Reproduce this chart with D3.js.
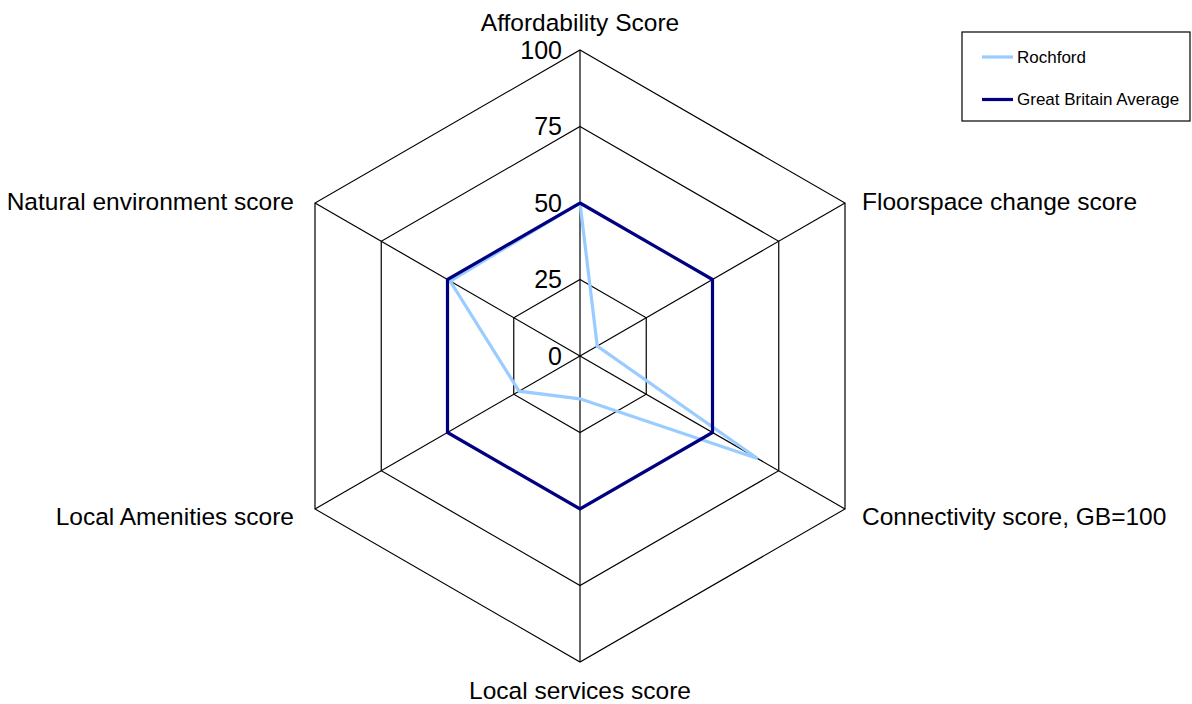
<!DOCTYPE html>
<html>
<head>
<meta charset="utf-8">
<script src="https://cdn.jsdelivr.net/npm/d3@7"></script>
<style>
  body { margin: 0; background: #fff; }
  svg { font-family: "Liberation Sans", Arial, sans-serif; }
</style>
</head>
<body>
<div id="chart"></div>
<script>
var axes = ["Affordability Score", "Floorspace change score", "Connectivity score, GB=100",
  "Local services score", "Local Amenities score", "Natural environment score"];
var ticks = [0, 25, 50, 75, 100];
var rochford = [50, 6.5, 67, 14, 23, 49];
var gbAverage = [50, 50, 50, 50, 50, 50];
var seriesNames = ["Rochford", "Great Britain Average"];
var seriesColors = ["#99ccff", "#000080"];

var width = 1192, height = 704;
var cx = 580, cy = 356, R = 306;

var svg = d3.select("#chart").append("svg")
  .attr("width", width)
  .attr("height", height);

var r = d3.scaleLinear().domain([0, 100]).range([0, R]);
var angle = d3.scalePoint().domain(axes).range([0, 2 * Math.PI * 5 / 6]);

function pt(a, v) {
  var t = angle(a);
  return [cx + r(v) * Math.sin(t), cy - r(v) * Math.cos(t)];
}

var g = svg.append("g");

// rings
ticks.filter(function(d) { return d > 0; }).forEach(function(tk) {
  g.append("polygon")
    .attr("points", axes.map(function(a) { return pt(a, tk).join(","); }).join(" "))
    .attr("fill", "none")
    .attr("stroke", "#000")
    .attr("stroke-width", 1.2);
});

// spokes
g.selectAll("line.spoke")
  .data(axes)
  .enter()
  .append("line")
  .attr("x1", cx).attr("y1", cy)
  .attr("x2", function(a) { return pt(a, 100)[0]; })
  .attr("y2", function(a) { return pt(a, 100)[1]; })
  .attr("stroke", "#000")
  .attr("stroke-width", 1.2);

// tick labels
g.selectAll("text.tick")
  .data(ticks)
  .enter()
  .append("text")
  .attr("x", cx - 18)
  .attr("y", function(d) { return cy - r(d); })
  .attr("dy", "0.35em")
  .attr("text-anchor", "end")
  .attr("font-size", 25)
  .text(function(d) { return d; });

// axis labels
var labelPos = [
  { x: cx, y: 22, anchor: "middle" },
  { x: 862, y: 201, anchor: "start" },
  { x: 862, y: 516, anchor: "start" },
  { x: cx, y: 690, anchor: "middle" },
  { x: 294, y: 516, anchor: "end" },
  { x: 294, y: 201, anchor: "end" }
];
g.selectAll("text.axis")
  .data(axes)
  .enter()
  .append("text")
  .attr("x", function(d, i) { return labelPos[i].x; })
  .attr("y", function(d, i) { return labelPos[i].y; })
  .attr("dy", "0.35em")
  .attr("text-anchor", function(d, i) { return labelPos[i].anchor; })
  .attr("font-size", 24.5)
  .text(function(d) { return d; });

// series
var line = d3.line().curve(d3.curveLinearClosed);
[rochford, gbAverage].forEach(function(vals, i) {
  g.append("path")
    .attr("d", line(axes.map(function(a, j) { return pt(a, vals[j]); })))
    .attr("fill", "none")
    .attr("stroke", seriesColors[i])
    .attr("stroke-width", 3.2)
    .attr("stroke-linejoin", "miter");
});

// legend
var legend = svg.append("g").attr("transform", "translate(962,32)");
legend.append("rect")
  .attr("width", 228).attr("height", 89)
  .attr("fill", "#fff").attr("stroke", "#000").attr("stroke-width", 1.2);
seriesNames.forEach(function(name, i) {
  var y = 25 + i * 42.5;
  legend.append("line")
    .attr("x1", 20).attr("x2", 51).attr("y1", y).attr("y2", y)
    .attr("stroke", seriesColors[i]).attr("stroke-width", 3.2);
  legend.append("text")
    .attr("x", 55).attr("y", y).attr("dy", "0.35em")
    .attr("font-size", 17)
    .text(name);
});
</script>
</body>
</html>
